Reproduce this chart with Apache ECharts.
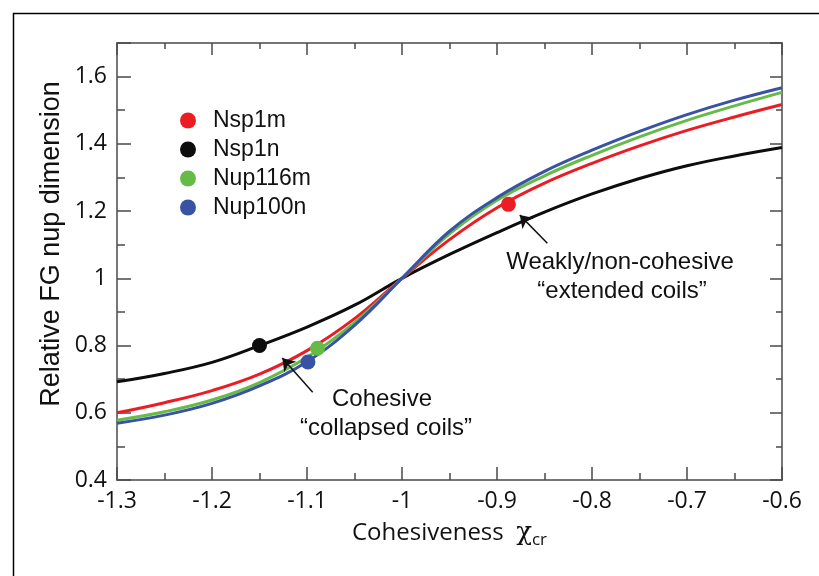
<!DOCTYPE html>
<html>
<head>
<meta charset="utf-8">
<script src="https://cdn.jsdelivr.net/npm/echarts@6/dist/echarts.min.js"></script>
<style>
html,body{margin:0;padding:0;background:#fff;}
#chart{width:819px;height:576px;}
</style>
</head>
<body>
<div id="chart"></div>
<script>
var xValues = [-1.3, -1.25, -1.2, -1.15, -1.1, -1.05, -1.0, -0.95, -0.9, -0.85, -0.8, -0.75, -0.7, -0.65, -0.6];
var nsp1n   = [0.692, 0.717, 0.750, 0.800, 0.855, 0.920, 1.0, 1.071, 1.136, 1.197, 1.251, 1.297, 1.335, 1.364, 1.389];
var nsp1m   = [0.600, 0.630, 0.666, 0.715, 0.785, 0.880, 1.0, 1.115, 1.210, 1.283, 1.342, 1.394, 1.440, 1.480, 1.517];
var nup116m = [0.578, 0.603, 0.638, 0.690, 0.765, 0.868, 1.0, 1.132, 1.232, 1.305, 1.366, 1.421, 1.470, 1.513, 1.553];
var nup100n = [0.569, 0.593, 0.628, 0.680, 0.752, 0.860, 1.0, 1.140, 1.240, 1.318, 1.381, 1.437, 1.487, 1.530, 1.567];

var seriesNames = ['Nsp1m', 'Nsp1n', 'Nup116m', 'Nup100n'];
var pointX = [-0.888, -1.15, -1.089, -1.099];
var pointY = [1.22, 0.80, 0.792, 0.751];

var xTicks = { min: -1.3, max: -0.6, interval: 0.1 };
var yTicks = { min: 0.4, max: 1.7, interval: 0.2 };

var colors = { 'Nsp1m': '#ec1c24', 'Nsp1n': '#0d0d0d', 'Nup116m': '#66bb46', 'Nup100n': '#3852a4' };
var lineData = { 'Nsp1m': nsp1m, 'Nsp1n': nsp1n, 'Nup116m': nup116m, 'Nup100n': nup100n };

function pairs(ys) { return xValues.map(function (x, i) { return [x, ys[i]]; }); }

var axisGray = '#4a4a4a';
var chart = echarts.init(document.getElementById('chart'), null, { renderer: 'canvas' });

var drawOrder = ['Nsp1n', 'Nsp1m', 'Nup116m', 'Nup100n'];
var series = drawOrder.map(function (n) {
  return {
    name: n, type: 'line', data: pairs(lineData[n]), smooth: 0.4,
    showSymbol: false, symbol: 'circle', symbolSize: 15,
    lineStyle: { color: colors[n], width: 3 }, itemStyle: { color: colors[n] },
    z: 3, animation: false
  };
});
seriesNames.forEach(function (n, i) {
  series.push({
    name: n, type: 'scatter', data: [[pointX[i], pointY[i]]], symbol: 'circle', symbolSize: 15,
    itemStyle: { color: colors[n], opacity: 1 }, z: 5, animation: false
  });
});
// arrows
series.push({
  type: 'line', data: [], silent: true, animation: false,
  markLine: {
    silent: true, animation: false, symbol: ['none', 'arrow'], symbolSize: 12,
    lineStyle: { color: '#111', width: 1.5, type: 'solid' }, label: { show: false },
    itemStyle: { color: '#111' },
    data: [
      [{ coord: [-0.847, 1.104] }, { coord: [-0.876, 1.188] }],
      [{ coord: [-1.094, 0.661] }, { coord: [-1.126, 0.763] }]
    ]
  }
});

var tickCommon = { inside: true, length: 13, lineStyle: { color: axisGray, width: 1.5 } };
var minorCommon = { show: true, splitNumber: 2, length: 7, lineStyle: { color: axisGray, width: 1.5 } };
var lineCommon = { show: true, onZero: false, lineStyle: { color: axisGray, width: 1.5 } };

var option = {
  backgroundColor: '#fff',
  animation: false,
  grid: { left: 117, right: 37, top: 43, bottom: 96 },
  legend: {
    data: seriesNames, orient: 'vertical', left: 175, top: 104, itemGap: 6,
    icon: 'circle', itemWidth: 16, itemHeight: 16,
    textStyle: { fontFamily: 'Liberation Sans', fontSize: 23, color: '#111', padding: [0, 0, 0, 12] },
    selectedMode: false
  },
  xAxis: [{
    type: 'value', min: xTicks.min, max: xTicks.max, interval: xTicks.interval,
    axisLine: lineCommon, axisTick: tickCommon, minorTick: minorCommon, splitLine: { show: false },
    axisLabel: { fontFamily: 'Open Sans', fontSize: 23, color: '#111', margin: 10 },
    name: 'Cohesiveness  {sym|χ}{sub|cr}', nameLocation: 'middle', nameGap: 38,
    nameTextStyle: {
      fontFamily: 'Open Sans', fontSize: 24, color: '#111',
      rich: {
        sym: { fontFamily: 'DejaVu Serif', fontSize: 26, color: '#111' },
        sub: { fontFamily: 'Open Sans', fontSize: 17, color: '#111', verticalAlign: 'bottom', padding: [14, 0, 0, 0] }
      }
    }
  }, {
    type: 'value', position: 'top', min: xTicks.min, max: xTicks.max, interval: xTicks.interval,
    axisLine: lineCommon, axisTick: Object.assign({}, tickCommon, { length: 12 }), minorTick: Object.assign({}, minorCommon, { length: 6 }),
    splitLine: { show: false }, axisLabel: { show: false }
  }],
  yAxis: [{
    type: 'value', min: yTicks.min, max: yTicks.max, interval: yTicks.interval,
    axisLine: lineCommon, axisTick: Object.assign({}, tickCommon, { length: 14 }), minorTick: Object.assign({}, minorCommon, { length: 8 }),
    splitLine: { show: false },
    axisLabel: {
      fontFamily: 'Open Sans', fontSize: 23, color: '#111', margin: 10, showMaxLabel: false,
      formatter: function (v) { return v > 1.65 ? '' : String(Math.round(v * 10) / 10); }
    }
  }, {
    type: 'value', position: 'right', min: yTicks.min, max: yTicks.max, interval: yTicks.interval,
    axisLine: lineCommon, axisTick: Object.assign({}, tickCommon, { length: 12 }), minorTick: Object.assign({}, minorCommon, { length: 6 }),
    splitLine: { show: false }, axisLabel: { show: false }
  }],
  graphic: [
    { type: 'rect', left: 11, top: 11, shape: { width: 900, height: 700 }, style: { fill: 'none', stroke: '#000', lineWidth: 1.5 }, silent: true, z: -1 },
    { type: 'text', x: 52, y: 244, rotation: Math.PI / 2, style: { text: 'Relative FG nup dimension', font: '27px "Liberation Sans"', fill: '#111', textAlign: 'center', textVerticalAlign: 'middle' } },
    { type: 'text', x: 620, y: 262, style: { text: 'Weakly/non-cohesive', font: '24px "Liberation Sans"', fill: '#111', textAlign: 'center', textVerticalAlign: 'middle' } },
    { type: 'text', x: 622, y: 291, style: { text: '\u201Cextended coils\u201D', font: '24px "Liberation Sans"', fill: '#111', textAlign: 'center', textVerticalAlign: 'middle' } },
    { type: 'text', x: 382, y: 399, style: { text: 'Cohesive', font: '24px "Liberation Sans"', fill: '#111', textAlign: 'center', textVerticalAlign: 'middle' } },
    { type: 'text', x: 386, y: 428, style: { text: '\u201Ccollapsed coils\u201D', font: '24px "Liberation Sans"', fill: '#111', textAlign: 'center', textVerticalAlign: 'middle' } }
  ],
  series: series
};
chart.setOption(option);
</script>
</body>
</html>
